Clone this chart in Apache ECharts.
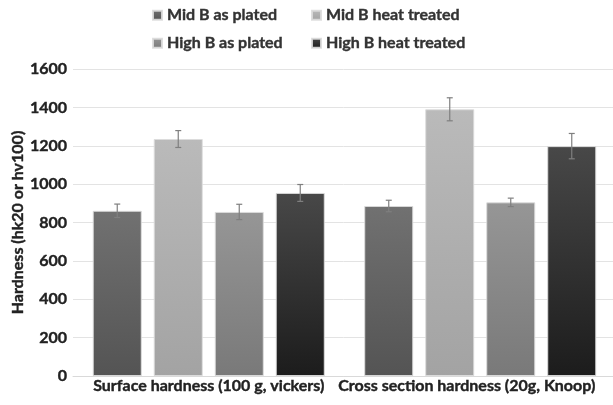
<!DOCTYPE html>
<html>
<head>
<meta charset="utf-8">
<script src="https://cdn.jsdelivr.net/npm/echarts@6/dist/echarts.min.js"></script>
<style>
  html, body { margin: 0; padding: 0; background: #fff; }
  #chart { width: 613px; height: 405px; }
</style>
</head>
<body>
<div id="chart"></div>
<script>
// Hardness measurements for two boron levels, as plated and heat treated
const categories = ['Surface hardness (100 g, vickers)', 'Cross section hardness (20g, Knoop)'];
const seriesNames = ['Mid B as plated', 'Mid B heat treated', 'High B as plated', 'High B heat treated'];
const midBAsPlated = [861, 886];
const midBHeatTreated = [1235, 1390];
const highBAsPlated = [855, 905];
const highBHeatTreated = [954, 1198];
const midBAsPlatedErr = [35, 30];
const midBHeatTreatedErr = [44, 60];
const highBAsPlatedErr = [40, 22];
const highBHeatTreatedErr = [44, 66];
const yTicks = [0, 200, 400, 600, 800, 1000, 1200, 1400, 1600];

const values = [midBAsPlated, midBHeatTreated, highBAsPlated, highBHeatTreated];
const errors = [midBAsPlatedErr, midBHeatTreatedErr, highBAsPlatedErr, highBHeatTreatedErr];

// gradient stops (top, bottom) for each series
const fills = [
  ['#717171', '#545454'],
  ['#bababa', '#a3a3a3'],
  ['#969696', '#797979'],
  ['#484848', '#1c1c1c']
];

const FONT = 'Lato';
const FONT_SIZE = 16;
const TEXT_COLOR = '#222222';
const BAR_W = 49;
const BAR_GAP = 12;

// slightly heavier strokes for bold text
function heavy(color) {
  return { textBorderColor: color, textBorderWidth: 0.4 };
}

const chart = echarts.init(document.getElementById('chart'), null, { renderer: 'canvas' });

const barSeries = seriesNames.map((name, i) => ({
  name,
  type: 'bar',
  data: values[i],
  barWidth: BAR_W,
  barGap: (BAR_GAP / BAR_W * 100).toFixed(2) + '%',
  itemStyle: {
    color: new echarts.graphic.LinearGradient(0, 0, 0, 1, [
      { offset: 0, color: fills[i][0] },
      { offset: 1, color: fills[i][1] }
    ]),
    borderColor: 'rgba(220,220,220,0.9)',
    borderWidth: 1
  },
  emphasis: { disabled: true },
  z: 2
}));

const errorSeries = seriesNames.map((name, i) => ({
  type: 'custom',
  name: name + ' error',
  data: values[i].map((v, k) => [k, v - errors[i][k], v + errors[i][k]]),
  encode: { x: 0, y: [1, 2] },
  silent: true,
  z: 5,
  renderItem: function (params, api) {
    const k = api.value(0);
    const lo = api.coord([k, api.value(1)]);
    const hi = api.coord([k, api.value(2)]);
    const x = lo[0] + (i - 1.5) * (BAR_W + BAR_GAP);
    const cap = 3;
    const style = { stroke: '#7f7f7f', lineWidth: 1.2 };
    return {
      type: 'group',
      children: [
        { type: 'line', shape: { x1: x, y1: lo[1], x2: x, y2: hi[1] }, style },
        { type: 'line', shape: { x1: x - cap, y1: lo[1], x2: x + cap, y2: lo[1] }, style },
        { type: 'line', shape: { x1: x - cap, y1: hi[1], x2: x + cap, y2: hi[1] }, style }
      ]
    };
  }
}));

// one legend block per entry so the two columns line up
const legendPos = [
  { left: 147, top: 2 },
  { left: 306, top: 2 },
  { left: 147, top: 30 },
  { left: 306, top: 30 }
];
const legends = seriesNames.map((name, i) => ({
  data: [name],
  left: legendPos[i].left,
  top: legendPos[i].top,
  itemWidth: 9,
  itemHeight: 9,
  itemGap: 0,
  selectedMode: false,
  icon: 'rect',
  textStyle: Object.assign(
    { fontFamily: FONT, fontWeight: 'bold', fontSize: FONT_SIZE, color: '#333333' },
    heavy('#333333')
  )
}));

chart.setOption({
  animation: false,
  backgroundColor: '#ffffff',
  legend: legends,
  grid: { left: 73, top: 69, width: 543, height: 307, containLabel: false, outerBoundsMode: 'none' },
  xAxis: {
    type: 'category',
    data: categories,
    axisLine: { show: true, lineStyle: { color: '#d9d9d9', width: 1 } },
    axisTick: { show: false },
    axisLabel: Object.assign({
      interval: 0,
      hideOverlap: false,
      fontFamily: FONT, fontWeight: 'bold', fontSize: FONT_SIZE, color: TEXT_COLOR, margin: 2,
      // the last label is nudged left so it stays inside the chart
      formatter: (v, idx) => idx === categories.length - 1 ? '{edge|' + v + '}' : v,
      rich: {
        edge: Object.assign({
          fontFamily: FONT, fontWeight: 'bold', fontSize: FONT_SIZE, color: TEXT_COLOR,
          padding: [0, 27, 0, 0]
        }, heavy(TEXT_COLOR))
      }
    }, heavy(TEXT_COLOR))
  },
  yAxis: {
    type: 'value',
    min: yTicks[0],
    max: yTicks[yTicks.length - 1],
    interval: 200,
    name: 'Hardness (hk20 or hv100)',
    nameLocation: 'middle',
    nameGap: 47,
    nameMoveOverlap: false,
    nameTextStyle: Object.assign(
      { fontFamily: FONT, fontWeight: 'bold', fontSize: FONT_SIZE, color: TEXT_COLOR },
      heavy(TEXT_COLOR)
    ),
    axisLine: { show: false },
    axisTick: { show: false },
    splitLine: { lineStyle: { color: '#e3e3e3', width: 1 } },
    axisLabel: Object.assign({
      formatter: v => String(v),
      fontFamily: FONT, fontWeight: 'bold', fontSize: FONT_SIZE, color: TEXT_COLOR, margin: 6
    }, heavy(TEXT_COLOR))
  },
  series: barSeries.concat(errorSeries)
});
</script>
</body>
</html>
